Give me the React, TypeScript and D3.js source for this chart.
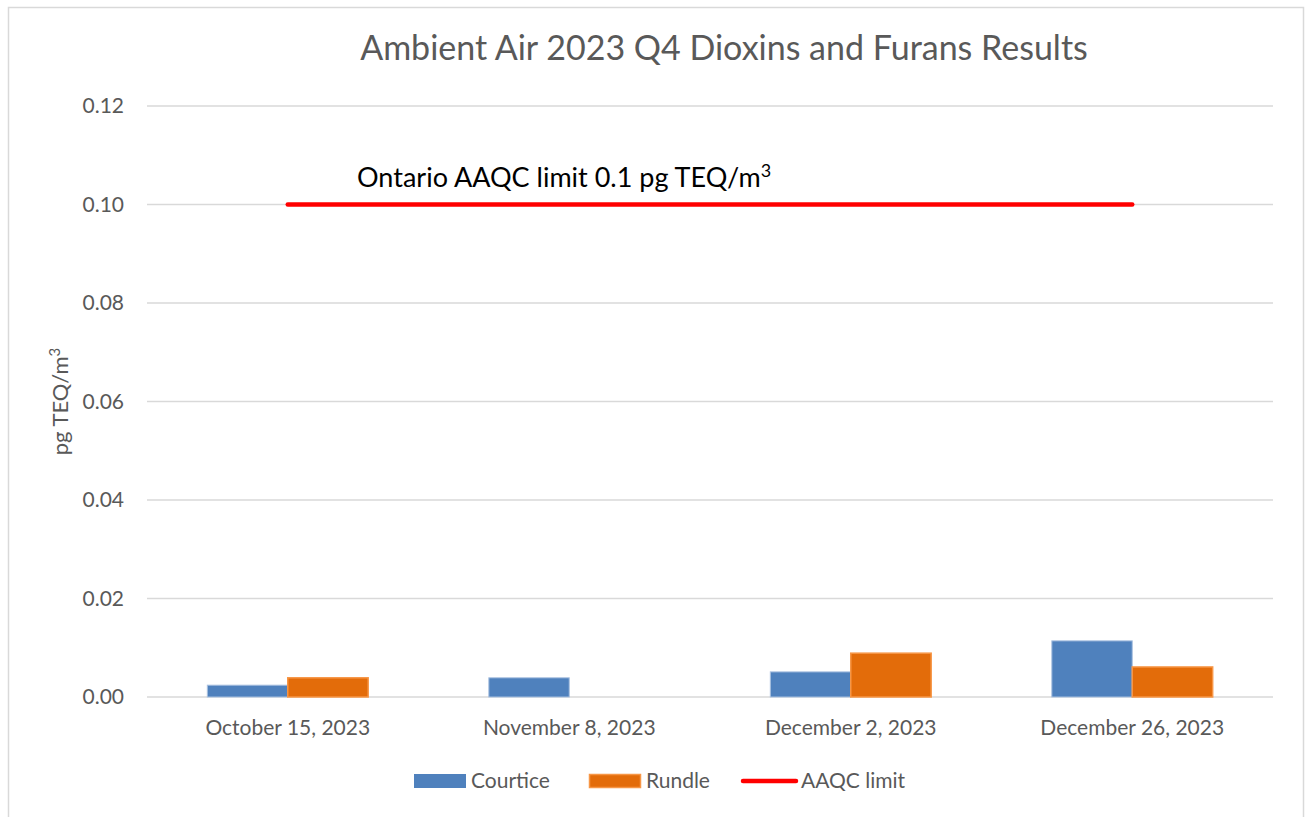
import React from "react";
import * as d3 from "d3";

const categories = ["October 15, 2023", "November 8, 2023", "December 2, 2023", "December 26, 2023"];
const courtice = [0.0024, 0.0039, 0.0051, 0.0114];
const rundle = [0.0039, 0, 0.0089, 0.0061];
const aaqcLimit = [0.1, 0.1, 0.1, 0.1];
const yTicks = [0, 0.02, 0.04, 0.06, 0.08, 0.1, 0.12];

const W = 1309;
const H = 817;
const margin = { top: 106, right: 36, bottom: 120, left: 147 };
const font = "Lato, 'Open Sans', sans-serif";
const grey = "#595959";

export default function App() {
  const x = d3
    .scaleBand<string>()
    .domain(categories)
    .range([margin.left, W - margin.right]);
  const y = d3
    .scaleLinear()
    .domain([0, 0.12])
    .range([H - margin.bottom, margin.top]);

  // gap width 150% like the spreadsheet default
  const barW = x.bandwidth() / 3.5;
  const inner = d3.scaleBand<string>().domain(["c", "r"]).range([0, barW * 2]);

  const line = d3
    .line<number>()
    .x((d, i) => (x(categories[i]) as number) + x.bandwidth() / 2)
    .y((d) => y(d));

  return (
    <div style={{ position: "absolute", left: 0, top: 0 }}>
      <svg width={W} height={H} style={{ display: "block", fontFamily: font }}>
        <rect x={8.5} y={7.5} width={1295} height={830} fill="#fff" stroke="#d9d9d9" strokeWidth={1.5} />

        <text x={724} y={60} textAnchor="middle" fontSize={34} fill={grey}>
          Ambient Air 2023 Q4 Dioxins and Furans Results
        </text>

        {/* grid and y ticks */}
        {yTicks.map((t) => (
          <g key={t}>
            <line
              x1={margin.left}
              x2={W - margin.right}
              y1={y(t)}
              y2={y(t)}
              stroke="#d9d9d9"
              strokeWidth={1.5}
            />
            <text x={124} y={y(t) + 7} textAnchor="end" fontSize={21} fill={grey}>
              {t.toFixed(2)}
            </text>
          </g>
        ))}

        <text
          transform={`translate(68, ${(y(0) + y(0.12)) / 2}) rotate(-90)`}
          textAnchor="middle"
          fontSize={22}
          fill={grey}
        >
          pg TEQ/m<tspan dy={-8} fontSize={15}>3</tspan>
        </text>

        {/* bars */}
        {categories.map((c, i) => {
          const x0 = (x(c) as number) + (x.bandwidth() - barW * 2) / 2;
          return (
            <g key={c}>
              {courtice[i] > 0 && (
                <rect
                  x={x0 + (inner("c") as number)}
                  y={y(courtice[i])}
                  width={barW}
                  height={y(0) - y(courtice[i])}
                  fill="#4f81bd"
                  stroke="#a9c1e0"
                  strokeWidth={1}
                />
              )}
              {rundle[i] > 0 && (
                <rect
                  x={x0 + (inner("r") as number)}
                  y={y(rundle[i])}
                  width={barW}
                  height={y(0) - y(rundle[i])}
                  fill="#e36c0a"
                  stroke="#f79646"
                  strokeWidth={1.5}
                />
              )}
              <text
                x={(x(c) as number) + x.bandwidth() / 2}
                y={735}
                textAnchor="middle"
                fontSize={21}
                fill={grey}
              >
                {c}
              </text>
            </g>
          );
        })}

        {/* AAQC limit line */}
        <path d={line(aaqcLimit) as string} fill="none" stroke="#ff0000" strokeWidth={4.5} strokeLinecap="round" />
        <text x={357} y={187} fontSize={27} fill="#000">
          Ontario AAQC limit 0.1 pg TEQ/m<tspan dy={-10} fontSize={18}>3</tspan>
        </text>

        {/* legend */}
        <rect x={414} y={774} width={52} height={14} fill="#4f81bd" />
        <text x={471} y={788} fontSize={21} fill={grey}>Courtice</text>
        <rect x={589.5} y={774.5} width={51} height={13} fill="#e36c0a" stroke="#f79646" strokeWidth={1.5} />
        <text x={646} y={788} fontSize={21} fill={grey}>Rundle</text>
        <line x1={743} x2={796} y1={781} y2={781} stroke="#ff0000" strokeWidth={4.5} strokeLinecap="round" />
        <text x={801} y={788} fontSize={21} fill={grey}>AAQC limit</text>
      </svg>
    </div>
  );
}
